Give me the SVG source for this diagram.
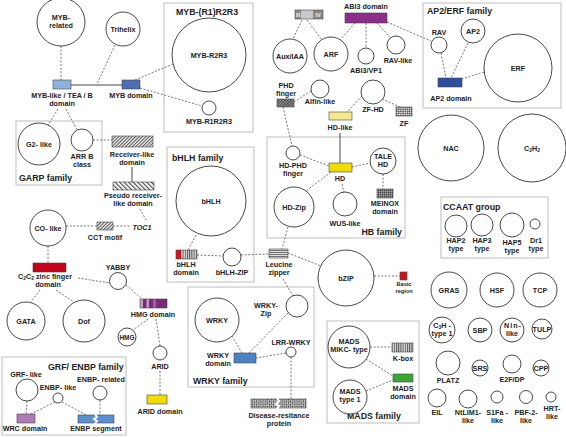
<svg xmlns="http://www.w3.org/2000/svg" width="566" height="437" viewBox="0 0 566 437">
<style>
.t{font-family:"Liberation Sans",Arial,sans-serif;font-weight:bold;font-size:7.2px;fill:#222;text-anchor:middle}
.ti{font-family:"Liberation Sans",Arial,sans-serif;font-weight:bold;font-size:8.8px;fill:#222}
.c{fill:#fff;stroke:#333;stroke-width:0.9}
.box{fill:none;stroke:#bdbdbd;stroke-width:1}
.d{stroke:#666;stroke-width:0.9;stroke-dasharray:2,1.6;fill:none}
.l{stroke:#333;stroke-width:0.9;fill:none}
.r{stroke:#444;stroke-width:0.6}
</style>
<defs>
<pattern id="hatchA" width="2.4" height="2.4" patternUnits="userSpaceOnUse" patternTransform="rotate(45)"><rect width="2.4" height="2.4" fill="#eee"/><rect width="1" height="2.4" fill="#555"/></pattern>
<pattern id="hatchB" width="3.2" height="3.2" patternUnits="userSpaceOnUse" patternTransform="rotate(-45)"><rect width="3.2" height="3.2" fill="#f2f2f2"/><rect width="1" height="3.2" fill="#444"/></pattern>
<pattern id="hatchDark" width="2" height="2" patternUnits="userSpaceOnUse" patternTransform="rotate(45)"><rect width="2" height="2" fill="#999"/><rect width="1" height="2" fill="#444"/></pattern>
<pattern id="cross" width="2" height="2" patternUnits="userSpaceOnUse"><rect width="2" height="2" fill="#777"/><rect width="1" height="1" fill="#444"/><rect x="1" y="1" width="1" height="1" fill="#aaa"/></pattern>
<pattern id="check" width="3" height="3" patternUnits="userSpaceOnUse" patternTransform="rotate(45)"><rect width="3" height="3" fill="#fff"/><rect width="1.5" height="1.5" fill="#333"/><rect x="1.5" y="1.5" width="1.5" height="1.5" fill="#333"/></pattern>
<pattern id="hstripe" width="2" height="2" patternUnits="userSpaceOnUse"><rect width="2" height="2" fill="#ddd"/><rect width="2" height="0.9" fill="#666"/></pattern>
<pattern id="vstripe" width="2.2" height="2" patternUnits="userSpaceOnUse"><rect width="2.2" height="2" fill="#ddd"/><rect width="1" height="2" fill="#555"/></pattern>
</defs>

<!-- family boxes -->
<g id="boxes">
<rect class="box" x="164" y="3" width="89" height="129"/>
<text class="ti" x="176" y="15">MYB-(R1)R2R3</text>
<rect class="box" x="16" y="121" width="86" height="64"/>
<text class="ti" x="19" y="181">GARP family</text>
<rect class="box" x="167" y="147" width="87" height="135"/>
<text class="ti" x="172" y="161">bHLH family</text>
<rect class="box" x="267" y="137" width="138" height="101"/>
<text class="ti" x="402" y="235" text-anchor="end">HB family</text>
<rect class="box" x="423" y="3" width="138" height="105"/>
<text class="ti" x="427" y="14">AP2/ERF family</text>
<rect class="box" x="441" y="197" width="107" height="61"/>
<text class="ti" x="443" y="210">CCAAT group</text>
<rect class="box" x="188" y="287" width="126" height="100"/>
<text class="ti" x="193" y="384">WRKY family</text>
<rect class="box" x="327" y="321" width="92" height="102"/>
<text class="ti" x="347" y="419">MADS family</text>
<rect class="box" x="2" y="357" width="124" height="78"/>
<text class="ti" x="48" y="370">GRF/ ENBP family</text>
</g>

<!-- connectors -->
<g id="connectors">
<line class="d" x1="61" y1="46" x2="61" y2="80"/>
<line class="d" x1="115" y1="45" x2="97" y2="84"/>
<line class="l" x1="71" y1="85" x2="122" y2="85"/>
<line class="d" x1="135" y1="80" x2="173" y2="64"/>
<line class="d" x1="140" y1="88" x2="202" y2="106"/>
<line class="d" x1="58" y1="109" x2="48" y2="125"/>
<line class="d" x1="66" y1="109" x2="77" y2="130"/>
<line class="d" x1="93" y1="140" x2="112" y2="140"/>
<line class="l" x1="132" y1="167" x2="132" y2="182"/>
<line class="d" x1="140" y1="209" x2="146" y2="220"/>
<line class="d" x1="66" y1="226" x2="97" y2="226"/>
<line class="d" x1="113" y1="226" x2="131" y2="226"/>
<line class="d" x1="48" y1="246" x2="48" y2="263"/>
<line class="d" x1="78" y1="278" x2="110" y2="283"/>
<line class="d" x1="126" y1="285" x2="141" y2="298"/>
<line class="d" x1="40" y1="290" x2="31" y2="302"/>
<line class="d" x1="56" y1="290" x2="74" y2="302"/>
<line class="d" x1="148" y1="319" x2="133" y2="330"/>
<line class="d" x1="156" y1="319" x2="160" y2="346"/>
<line class="d" x1="160" y1="371" x2="160" y2="395"/>
<line class="d" x1="27" y1="401" x2="26" y2="414"/>
<line class="d" x1="55" y1="402" x2="31" y2="414"/>
<line class="d" x1="62" y1="402" x2="86" y2="415"/>
<line class="d" x1="100" y1="400" x2="100" y2="415"/>
<line class="d" x1="196" y1="235" x2="188" y2="250"/>
<line class="d" x1="197" y1="255" x2="223" y2="256"/>
<line class="d" x1="241" y1="255" x2="269" y2="254"/>
<line class="d" x1="288" y1="227" x2="282" y2="249"/>
<line class="d" x1="288" y1="253" x2="321" y2="266"/>
<line class="d" x1="283" y1="279" x2="293" y2="296"/>
<line class="d" x1="374" y1="276" x2="400" y2="276"/>
<line class="d" x1="294" y1="102" x2="311" y2="91"/>
<line class="d" x1="283" y1="107" x2="292" y2="146"/>
<line class="d" x1="300" y1="155" x2="329" y2="166"/>
<line class="l" x1="340" y1="133" x2="340" y2="163"/>
<line class="d" x1="352" y1="167" x2="370" y2="163"/>
<line class="d" x1="331" y1="172" x2="306" y2="191"/>
<line class="d" x1="342" y1="184" x2="344" y2="192"/>
<line class="d" x1="383" y1="174" x2="383" y2="189"/>
<line class="d" x1="362" y1="96" x2="347" y2="112"/>
<line class="d" x1="382" y1="99" x2="400" y2="107"/>
<line class="d" x1="302" y1="20" x2="293" y2="39"/>
<line class="d" x1="307" y1="20" x2="322" y2="40"/>
<line class="d" x1="355" y1="23" x2="340" y2="40"/>
<line class="d" x1="366" y1="23" x2="366" y2="48"/>
<line class="d" x1="377" y1="23" x2="390" y2="37"/>
<line class="d" x1="387" y1="22" x2="431" y2="41"/>
<line class="d" x1="441" y1="53" x2="446" y2="78"/>
<line class="d" x1="468" y1="43" x2="451" y2="78"/>
<line class="d" x1="484" y1="72" x2="462" y2="79"/>
<line class="d" x1="232" y1="336" x2="242" y2="353"/>
<line class="d" x1="288" y1="313" x2="249" y2="353"/>
<line class="d" x1="286" y1="353" x2="256" y2="358"/>
<line class="d" x1="291" y1="357" x2="291" y2="399"/>
<line class="d" x1="370" y1="347" x2="392" y2="347"/>
<line class="d" x1="366" y1="359" x2="393" y2="376"/>
<line class="d" x1="366" y1="391" x2="393" y2="380"/>
</g>

<!-- MYB area -->
<g id="myb-related"><circle class="c" cx="61" cy="22" r="24"/><text class="t" x="61" y="20">MYB-</text><text class="t" x="61" y="28">related</text></g>
<g id="trihelix"><circle class="c" cx="123" cy="29" r="17"/><text class="t" x="123" y="32">Trihelix</text></g>
<g id="myb-like-domain"><rect class="r" x="53" y="80" width="18" height="9" fill="#8fb2e0"/><text class="t" x="62" y="98">MYB-like / TEA / B</text><text class="t" x="62" y="106">domain</text></g>
<g id="myb-domain"><rect class="r" x="122" y="80" width="18" height="9" fill="#4f6fb5"/><text class="t" x="131" y="98">MYB domain</text></g>
<g id="myb-r2r3"><circle class="c" cx="209" cy="55" r="37"/><text class="t" x="209" y="58">MYB-R2R3</text></g>
<g id="myb-r1r2r3"><circle class="c" cx="209" cy="108" r="7"/><text class="t" x="209" y="124">MYB-R1R2R3</text></g>

<!-- GARP -->
<g id="g2-like"><circle class="c" cx="39" cy="144" r="21"/><text class="t" x="39" y="147">G2- like</text></g>
<g id="arr-b"><circle class="c" cx="82" cy="140" r="11"/><text class="t" x="82" y="159">ARR B</text><text class="t" x="82" y="167">class</text></g>
<g id="receiver"><rect class="r" x="112" y="136" width="41" height="11" fill="url(#hatchA)"/><text class="t" x="132" y="157">Receiver-like</text><text class="t" x="132" y="165">domain</text></g>
<g id="pseudo"><rect class="r" x="113" y="182" width="41" height="8" fill="url(#hatchB)"/><text class="t" x="133" y="198">Pseudo receiver-</text><text class="t" x="133" y="206">like domain</text></g>
<g id="toc1"><text class="t" x="142" y="230" style="font-style:italic">TOC1</text></g>
<g id="co-like"><circle class="c" cx="48" cy="228" r="18"/><text class="t" x="48" y="231">CO- like</text></g>
<g id="cct"><rect class="r" x="97" y="222" width="16" height="8" fill="url(#hatchA)"/><text class="t" x="105" y="240">CCT motif</text></g>
<g id="c2c2"><rect class="r" x="33" y="263" width="33" height="9" fill="#c8001a"/><text class="t" x="45" y="279">C<tspan font-size="5" dy="1">2</tspan><tspan dy="-1">C</tspan><tspan font-size="5" dy="1">2</tspan><tspan dy="-1"> zinc finger</tspan></text><text class="t" x="48" y="287">domain</text></g>
<g id="yabby"><circle class="c" cx="118" cy="281" r="8.5"/><text class="t" x="118" y="270">YABBY</text></g>
<g id="gata"><circle class="c" cx="26" cy="321" r="19"/><text class="t" x="26" y="324">GATA</text></g>
<g id="dof"><circle class="c" cx="84" cy="321" r="21"/><text class="t" x="84" y="324">Dof</text></g>
<g id="hmg-domain"><rect x="140" y="299" width="27" height="9" fill="#7a2a7a"/><rect x="140" y="299" width="3" height="9" fill="#c59ac5"/><rect x="146.5" y="299" width="2.5" height="9" fill="#c59ac5"/><rect x="153" y="299" width="3" height="9" fill="#a060a0"/><rect class="r" x="140" y="299" width="27" height="9" fill="none"/><text class="t" x="153" y="317">HMG domain</text></g>
<g id="hmg"><circle class="c" cx="127" cy="337" r="9"/><text class="t" x="127" y="340" style="font-size:6.5px">HMG</text></g>
<g id="arid"><circle class="c" cx="160" cy="353" r="7"/><text class="t" x="160" y="369">ARID</text></g>
<g id="arid-domain"><rect class="r" x="147" y="395" width="20" height="9" fill="#f2dc00"/><text class="t" x="160" y="414">ARID domain</text></g>

<!-- GRF/ENBP -->
<g id="grf-like"><text class="t" x="26" y="377">GRF- like</text><circle class="c" cx="27" cy="390" r="11"/></g>
<g id="enbp-like"><text class="t" x="58" y="390">ENBP- like</text><circle class="c" cx="58" cy="398" r="5"/></g>
<g id="enbp-related"><text class="t" x="101" y="382">ENBP- related</text><circle class="c" cx="100" cy="393" r="7"/></g>
<g id="wrc"><rect class="r" x="17" y="414" width="18" height="9" fill="#b07ab6"/><text class="t" x="25" y="431">WRC domain</text></g>
<g id="enbp-seg"><rect class="r" x="78" y="415" width="36" height="8" fill="#5c8fd0"/><polyline points="95,414 97,417 94,419 97,421 95,424" fill="none" stroke="#fff" stroke-width="2"/><text class="t" x="96" y="431">ENBP segment</text></g>

<!-- bHLH -->
<g id="bhlh"><circle class="c" cx="211" cy="201" r="35"/><text class="t" x="211" y="204">bHLH</text></g>
<g id="bhlh-domain"><rect x="176" y="250" width="21" height="9" fill="url(#vstripe)"/><rect x="176" y="250" width="5" height="9" fill="#d0141e"/><rect class="r" x="176" y="250" width="21" height="9" fill="none"/><text class="t" x="186" y="267">bHLH</text><text class="t" x="186" y="275">domain</text></g>
<g id="bhlh-zip"><circle class="c" cx="232" cy="257" r="9"/><text class="t" x="232" y="275">bHLH-ZIP</text></g>
<g id="leucine"><rect class="r" x="269" y="249" width="19" height="9" fill="url(#hstripe)"/><text class="t" x="279" y="267">Leucine</text><text class="t" x="279" y="275">zipper</text></g>
<g id="bzip"><circle class="c" cx="346" cy="278" r="28"/><text class="t" x="346" y="281">bZIP</text></g>
<g id="basic"><rect class="r" x="400" y="272" width="7" height="8" fill="#d0141e"/><text class="t" x="404" y="286" style="font-size:5.6px">Basic</text><text class="t" x="404" y="293" style="font-size:5.6px">region</text></g>

<!-- HB -->
<g id="phd-finger"><text class="t" x="286" y="88">PHD</text><text class="t" x="286" y="96">finger</text><rect class="r" x="277" y="99" width="17" height="8" fill="url(#hatchDark)"/></g>
<g id="alfin"><circle class="c" cx="320" cy="89" r="9"/><text class="t" x="320" y="104">Alfin-like</text></g>
<g id="hd-like"><rect class="r" x="329" y="112" width="23" height="8" fill="#f6ea8c"/><text class="t" x="340" y="130">HD-like</text></g>
<g id="zf-hd"><circle class="c" cx="373" cy="92" r="12"/><text class="t" x="373" y="112">ZF-HD</text></g>
<g id="zf"><rect class="r" x="396" y="107" width="16" height="9" fill="url(#check)"/><text class="t" x="404" y="126">ZF</text></g>
<g id="hd-phd"><circle class="c" cx="293" cy="153" r="7"/><text class="t" x="293" y="168">HD-PHD</text><text class="t" x="293" y="176">finger</text></g>
<g id="hd"><rect class="r" x="329" y="163" width="23" height="9" fill="#f2dc00"/><text class="t" x="340" y="181">HD</text></g>
<g id="tale-hd"><circle class="c" cx="383" cy="161" r="13"/><text class="t" x="383" y="159">TALE</text><text class="t" x="383" y="167">HD</text></g>
<g id="meinox"><rect class="r" x="377" y="189" width="16" height="9" fill="url(#cross)"/><text class="t" x="385" y="206">MEINOX</text><text class="t" x="385" y="214">domain</text></g>
<g id="hd-zip"><circle class="c" cx="294" cy="207" r="20"/><text class="t" x="294" y="210">HD-Zip</text></g>
<g id="wus-like"><circle class="c" cx="345" cy="204" r="12"/><text class="t" x="345" y="226">WUS-like</text></g>

<!-- Aux / ABI3 -->
<g id="iii-iv"><rect x="295" y="10" width="28" height="9" fill="#c8c8c8"/><rect x="295" y="10" width="6" height="9" fill="#8a8a8a"/><rect x="313" y="10" width="10" height="9" fill="#8a8a8a"/><rect class="r" x="295" y="10" width="28" height="9" fill="none"/><text class="t" x="298" y="16.5" style="font-size:5px;fill:#eee">III</text><text class="t" x="318" y="16.5" style="font-size:5.5px;fill:#eee">IV</text></g>
<g id="aux-iaa"><circle class="c" cx="290" cy="56" r="17"/><text class="t" x="290" y="59">Aux/IAA</text></g>
<g id="arf"><circle class="c" cx="331" cy="54" r="17"/><text class="t" x="331" y="57">ARF</text></g>
<g id="abi3-domain"><text class="t" x="366" y="9">ABI3 domain</text><rect class="r" x="345" y="13" width="42" height="10" fill="#8b2d8b"/></g>
<g id="abi3-vp1"><circle class="c" cx="366" cy="56" r="8"/><text class="t" x="366" y="73">ABI3/VP1</text></g>
<g id="rav-like"><circle class="c" cx="396" cy="45" r="9"/><text class="t" x="398" y="63">RAV-like</text></g>

<!-- AP2/ERF -->
<g id="rav"><text class="t" x="439" y="35">RAV</text><circle class="c" cx="439" cy="45" r="8"/></g>
<g id="ap2"><circle class="c" cx="473" cy="31" r="12"/><text class="t" x="473" y="34">AP2</text></g>
<g id="erf"><circle class="c" cx="518" cy="68" r="34"/><text class="t" x="518" y="71">ERF</text></g>
<g id="ap2-domain"><rect class="r" x="438" y="78" width="24" height="9" fill="#2e4f9e"/><text class="t" x="451" y="101">AP2 domain</text></g>

<g id="nac"><circle class="c" cx="451" cy="148" r="33"/><text class="t" x="451" y="151">NAC</text></g>
<g id="c2h2"><circle class="c" cx="532" cy="148" r="34"/><text class="t" x="532" y="151">C<tspan font-size="5" dy="1">2</tspan><tspan dy="-1">H</tspan><tspan font-size="5" dy="1">2</tspan></text></g>

<!-- CCAAT -->
<g id="hap2"><circle class="c" cx="456" cy="226" r="11"/><text class="t" x="456" y="243">HAP2</text><text class="t" x="456" y="251">type</text></g>
<g id="hap3"><circle class="c" cx="482" cy="225" r="11"/><text class="t" x="482" y="243">HAP3</text><text class="t" x="482" y="251">type</text></g>
<g id="hap5"><circle class="c" cx="512" cy="225" r="12"/><text class="t" x="512" y="245">HAP5</text><text class="t" x="512" y="253">type</text></g>
<g id="dr1"><circle class="c" cx="535" cy="224" r="5"/><text class="t" x="536" y="243">Dr1</text><text class="t" x="536" y="251">type</text></g>

<!-- right grid -->
<g id="gras"><circle class="c" cx="449" cy="290" r="18"/><text class="t" x="449" y="293">GRAS</text></g>
<g id="hsf"><circle class="c" cx="497" cy="290" r="17"/><text class="t" x="497" y="293">HSF</text></g>
<g id="tcp"><circle class="c" cx="540" cy="290" r="17"/><text class="t" x="540" y="293">TCP</text></g>
<g id="c3h"><circle class="c" cx="442" cy="330" r="13"/><text class="t" x="442" y="328">C<tspan font-size="5" dy="1">3</tspan><tspan dy="-1">H -</tspan></text><text class="t" x="442" y="336">type 1</text></g>
<g id="sbp"><circle class="c" cx="480" cy="330" r="12"/><text class="t" x="480" y="333">SBP</text></g>
<g id="nin-like"><circle class="c" cx="512" cy="330" r="12"/><text class="t" x="513" y="328" style="letter-spacing:1px">Nin-</text><text class="t" x="512" y="336">like</text></g>
<g id="tulp"><circle class="c" cx="542" cy="329" r="10"/><text class="t" x="542" y="332">TULP</text></g>
<g id="platz"><circle class="c" cx="448" cy="363" r="12"/><text class="t" x="448" y="383">PLATZ</text></g>
<g id="srs"><circle class="c" cx="480" cy="368" r="8"/><text class="t" x="480" y="371">SRS</text></g>
<g id="e2f"><circle class="c" cx="512" cy="364" r="9"/><text class="t" x="512" y="382">E2F/DP</text></g>
<g id="cpp"><circle class="c" cx="541" cy="368" r="8"/><text class="t" x="541" y="371">CPP</text></g>
<g id="eil"><circle class="c" cx="437" cy="398" r="9"/><text class="t" x="437" y="415">EIL</text></g>
<g id="ntlim1"><circle class="c" cx="468" cy="399" r="9"/><text class="t" x="468" y="415">NtLIM1-</text><text class="t" x="468" y="423">like</text></g>
<g id="s1fa"><circle class="c" cx="497" cy="397" r="6"/><text class="t" x="497" y="415">S1Fa -</text><text class="t" x="497" y="423">like</text></g>
<g id="pbf2"><circle class="c" cx="526" cy="397" r="6.5"/><text class="t" x="526" y="415">PBF-2-</text><text class="t" x="526" y="423">like</text></g>
<g id="hrt"><circle class="c" cx="551" cy="397" r="5"/><text class="t" x="552" y="411">HRT-</text><text class="t" x="552" y="419">like</text></g>

<!-- WRKY -->
<g id="wrky"><circle class="c" cx="217" cy="320" r="22"/><text class="t" x="217" y="323">WRKY</text></g>
<g id="wrky-zip"><circle class="c" cx="297" cy="306" r="11"/><text class="t" x="266" y="308">WRKY-</text><text class="t" x="266" y="316">Zip</text></g>
<g id="lrr-wrky"><text class="t" x="291" y="345">LRR-WRKY</text><circle class="c" cx="291" cy="352" r="5"/></g>
<g id="wrky-domain"><rect class="r" x="234" y="353" width="22" height="10" fill="#4b82c4"/><text class="t" x="218" y="358">WRKY</text><text class="t" x="218" y="366">domain</text></g>
<g id="disease"><rect class="r" x="251" y="399" width="55" height="9" fill="url(#check)"/><polyline points="277,398 279,401 276,404 279,406 277,409" fill="none" stroke="#fff" stroke-width="2"/><text class="t" x="279" y="418">Disease-resitance</text><text class="t" x="279" y="426">protein</text></g>

<!-- MADS -->
<g id="mads-mikc"><circle class="c" cx="349" cy="347" r="21"/><text class="t" x="349" y="344">MADS</text><text class="t" x="349" y="352">MIKC- type</text></g>
<g id="mads-type1"><circle class="c" cx="350" cy="397" r="17"/><text class="t" x="350" y="394">MADS</text><text class="t" x="350" y="402">type 1</text></g>
<g id="k-box"><rect class="r" x="392" y="343" width="21" height="9" fill="url(#vstripe)"/><text class="t" x="403" y="361">K-box</text></g>
<g id="mads-domain"><rect class="r" x="393" y="374" width="20" height="8" fill="#3aa837"/><text class="t" x="403" y="391">MADS</text><text class="t" x="403" y="399">domain</text></g>
</svg>
